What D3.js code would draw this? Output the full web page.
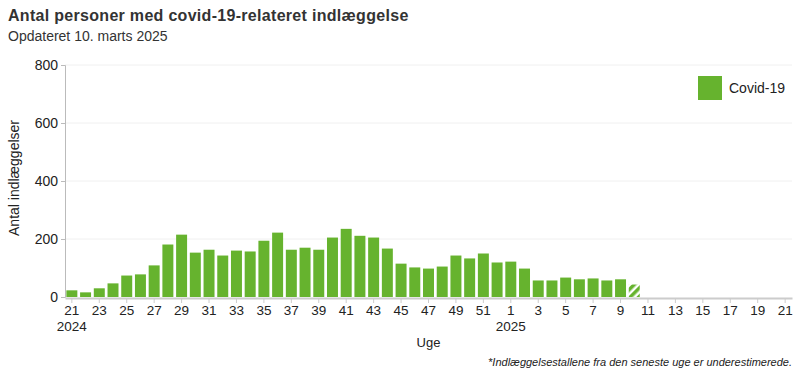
<!DOCTYPE html>
<html>
<head>
<meta charset="utf-8">
<script src="https://cdn.jsdelivr.net/npm/d3@7"></script>
<style>
  body { margin: 0; background: #fff; font-family: "Liberation Sans", Arial, sans-serif; }
</style>
</head>
<body>
<div id="container"></div>
<script>
const w = 800;
const h = 375;

// uge-kategorier: uge 21 2024 til uge 21 2025
const weeks2024 = d3.range(21, 53);
const weeks2025 = d3.range(1, 22);
const weekKeys = weeks2024.map(d => "2024-" + d).concat(weeks2025.map(d => "2025-" + d));

// indlæggelser pr. uge (sidste uge er underestimeret)
const values2024 = [23, 16, 30, 47, 74, 78, 109, 181, 215, 153, 163, 143, 160, 157, 194, 222,
                    163, 170, 163, 205, 235, 211, 205, 167, 115, 102, 98, 105, 143, 133, 150, 119];
const values2025 = [122, 98, 57, 57, 67, 61, 64, 57, 61, 43];
const yTicks = [0, 200, 400, 600, 800];

const data = values2024.map((v, i) => ({key: "2024-" + weeks2024[i], value: v}))
  .concat(values2025.map((v, i) => ({key: "2025-" + weeks2025[i], value: v})));
const lastKey = data[data.length - 1].key;

const margin = {left: 65, right: 8, top: 65, bottom: 78};
const svg = d3.select("#container").append("svg")
              .attr("width", w).attr("height", h)
              .style("font-family", "'Liberation Sans', Arial, sans-serif");

const defs = svg.append("defs");
const pat = defs.append("pattern")
  .attr("id", "hatch").attr("patternUnits", "userSpaceOnUse")
  .attr("width", 6).attr("height", 6)
  .attr("patternTransform", "rotate(45)");
pat.append("rect").attr("width", 6).attr("height", 6).attr("fill", "#fff");
pat.append("rect").attr("width", 3.5).attr("height", 6).attr("fill", "#66b32e");

const scaleX = d3.scaleBand()
  .domain(weekKeys)
  .range([margin.left, w - margin.right])
  .paddingInner(0.2).paddingOuter(0.1);
const scaleY = d3.scaleLinear()
  .domain([0, 800])
  .range([h - margin.bottom, margin.top]);

// title
svg.append("text").attr("x", 8).attr("y", 21)
   .attr("font-size", 16).attr("font-weight", "bold").attr("fill", "#333")
   .attr("letter-spacing", 0.3)
   .text("Antal personer med covid-19-relateret indlæggelse");
svg.append("text").attr("x", 8).attr("y", 41)
   .attr("font-size", 14).attr("fill", "#333")
   .text("Opdateret 10. marts 2025");

// grid
svg.append("g").selectAll("line").data(yTicks.slice(1)).enter().append("line")
   .attr("x1", margin.left).attr("x2", w - margin.right)
   .attr("y1", d => scaleY(d)).attr("y2", d => scaleY(d))
   .attr("stroke", "#f0f0f0").attr("stroke-width", 1);

// bars
svg.append("g").selectAll("rect").data(data).enter().append("rect")
   .attr("x", d => scaleX(d.key))
   .attr("width", scaleX.bandwidth())
   .attr("y", d => scaleY(d.value))
   .attr("height", d => scaleY(0) - scaleY(d.value))
   .attr("fill", d => d.key === lastKey ? "url(#hatch)" : "#66b32e");

// y axis
const yAxis = d3.axisLeft(scaleY).tickValues(yTicks).tickSize(4).tickPadding(3);
const yg = svg.append("g")
   .attr("transform", "translate(" + margin.left + ",0)")
   .call(yAxis);
yg.select(".domain").attr("stroke", "#bbb");
yg.selectAll(".tick line").attr("stroke", "#bbb");
yg.selectAll(".tick text").attr("font-size", 14).attr("fill", "#222")
  .attr("font-family", "'Liberation Sans', Arial, sans-serif");

svg.append("text")
   .attr("transform", "translate(19,178) rotate(-90)")
   .attr("text-anchor", "middle").attr("font-size", 14).attr("fill", "#222")
   .text("Antal indlæggelser");

// x axis
const xAxis = d3.axisBottom(scaleX)
   .tickValues(weekKeys.filter((d, i) => i % 2 === 0))
   .tickFormat(d => d.split("-")[1])
   .tickSize(5).tickPadding(2).tickSizeOuter(0);
const xg = svg.append("g")
   .attr("transform", "translate(0," + (scaleY(0) + 1) + ")")
   .call(xAxis);
xg.select(".domain").attr("stroke", "#ccc").attr("stroke-width", 2);
xg.selectAll(".tick line").attr("stroke", "#ccc");
xg.selectAll(".tick text").attr("font-size", 13.5).attr("fill", "#222")
  .attr("font-family", "'Liberation Sans', Arial, sans-serif");

const yearLabels = [["2024-21", "2024"], ["2025-1", "2025"]];
svg.append("g").selectAll("text").data(yearLabels).enter().append("text")
   .attr("x", d => scaleX(d[0]) + scaleX.bandwidth() / 2)
   .attr("y", scaleY(0) + 34)
   .attr("text-anchor", "middle").attr("font-size", 13.5).attr("fill", "#222")
   .text(d => d[1]);

svg.append("text")
   .attr("x", (margin.left + w - margin.right) / 2).attr("y", 347)
   .attr("text-anchor", "middle").attr("font-size", 13).attr("fill", "#222")
   .text("Uge");

svg.append("text")
   .attr("x", w - 8).attr("y", 366)
   .attr("text-anchor", "end").attr("font-size", 11).attr("font-style", "italic").attr("fill", "#222")
   .text("*Indlæggelsestallene fra den seneste uge er underestimerede.");

// legend
const legend = svg.append("g").attr("transform", "translate(698,76)");
legend.append("rect").attr("width", 24).attr("height", 24).attr("fill", "#66b32e");
legend.append("text").attr("x", 31).attr("y", 17)
   .attr("font-size", 14).attr("fill", "#222").text("Covid-19");
</script>
</body>
</html>
